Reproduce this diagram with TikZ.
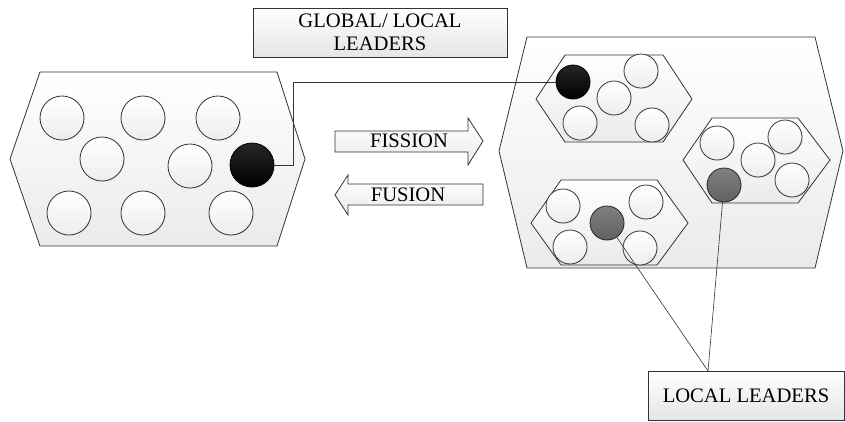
\documentclass[tikz,border=0pt]{standalone}
\usepackage{fontspec}
\setmainfont{Liberation Serif}
\usetikzlibrary{shadows}
\tikzset{member/.style={circle, draw=black!80, thick, inner sep=0pt, minimum size=#1, top color=white, bottom color=black!7, drop shadow={opacity=0.15, shadow xshift=0.8pt, shadow yshift=-0.8pt}},member/.default={44pt}}
\tikzset{leader/.style={member=#1, top color=black!85, bottom color=black, draw=black},leader/.default={44pt}}
\tikzset{subleader/.style={member=#1, top color=black!50, bottom color=black!62, draw=black!85},subleader/.default={34pt}}
\tikzset{colony/.style={draw=black!80, thick, top color=white, bottom color=black!8}}
\tikzset{tag/.style={draw=black!80, thick, top color=white, bottom color=black!10, drop shadow={opacity=0.3, shadow xshift=1pt, shadow yshift=-1pt}, align=center, inner sep=0pt, font=\fontsize{20.6}{23.5}\selectfont}}
\tikzset{link/.style={draw=black!80, line width=0.8pt}}

\begin{document}
\begin{tikzpicture}[x=1pt, y=-1pt]
    \useasboundingbox (0,0) rectangle (845,421);

        % before fission
        \draw[colony] (40,72) -- (277,72) -- (305,159) -- (277,246) -- (40,246) -- (10,159) -- cycle;
        \node [member] (a1) at (62,118) {};
        \node [member] (a2) at (143,118) {};
        \node [member] (a3) at (218,118) {};
        \node [member] (a4) at (102,159) {};
        \node [member] (a5) at (190,166) {};
        \node [member] (a6) at (69,213) {};
        \node [member] (a7) at (143,213) {};
        \node [member] (a8) at (231,213) {};
        \node [leader] (a9) at (252,165) {};

        \draw[colony] (335,131) -- (468,131) -- (468,118) -- (483,141) -- (468,165) -- (468,152) -- (335,152) -- cycle;
        \node [font=\fontsize{20.6}{23.5}\selectfont] (fission) at (409,141) {FISSION};
        \draw[colony] (483,184) -- (348,184) -- (348,175) -- (335,195) -- (348,215) -- (348,205) -- (483,205) -- cycle;
        \node [font=\fontsize{20.6}{23.5}\selectfont] (fusion) at (408,195) {FUSION};

        % after fission
        \draw[colony] (527,37) -- (815,37) -- (843,151) -- (815,268) -- (527,268) -- (499,151) -- cycle;

        \draw[colony] (565,55) -- (663,55) -- (692,99) -- (663,142) -- (565,142) -- (536,99) -- cycle;
        \node [leader=34pt] (b1) at (573,82) {};
        \node [member=34pt] (b2) at (641,71) {};
        \node [member=34pt] (b3) at (614,98) {};
        \node [member=34pt] (b4) at (580,123) {};
        \node [member=34pt] (b5) at (652,125) {};

        \draw[colony] (712,118) -- (798,118) -- (830,160) -- (798,203) -- (712,203) -- (683,160) -- cycle;
        \node [member=34pt] (c1) at (717,143) {};
        \node [member=34pt] (c2) at (785,137) {};
        \node [member=34pt] (c3) at (758,160) {};
        \node [member=34pt] (c4) at (792,180) {};
        \node [subleader] (c5) at (724,185) {};

        \draw[colony] (561,180) -- (657,180) -- (688,223) -- (657,265) -- (561,265) -- (531,223) -- cycle;
        \node [member=34pt] (d1) at (563,206) {};
        \node [member=34pt] (d2) at (646,202) {};
        \node [subleader] (d3) at (607,223) {};
        \node [member=34pt] (d4) at (570,247) {};
        \node [member=34pt] (d5) at (640,248) {};

        \node [tag, minimum width=254pt, minimum height=49pt] (global) at (380,32.5) {GLOBAL/ LOCAL\\LEADERS};
        \node [tag, minimum width=196pt, minimum height=49pt] (local) at (746,395.5) {LOCAL LEADERS};
        \coordinate (meet) at (708,371);

        \path[link] (a9.east) -- ++(19,0) |- (b1.west);
        \path[link, line width=0.6pt] (d3) -- (meet)
            (c5) -- (meet);

    \end{tikzpicture}
\end{document}
